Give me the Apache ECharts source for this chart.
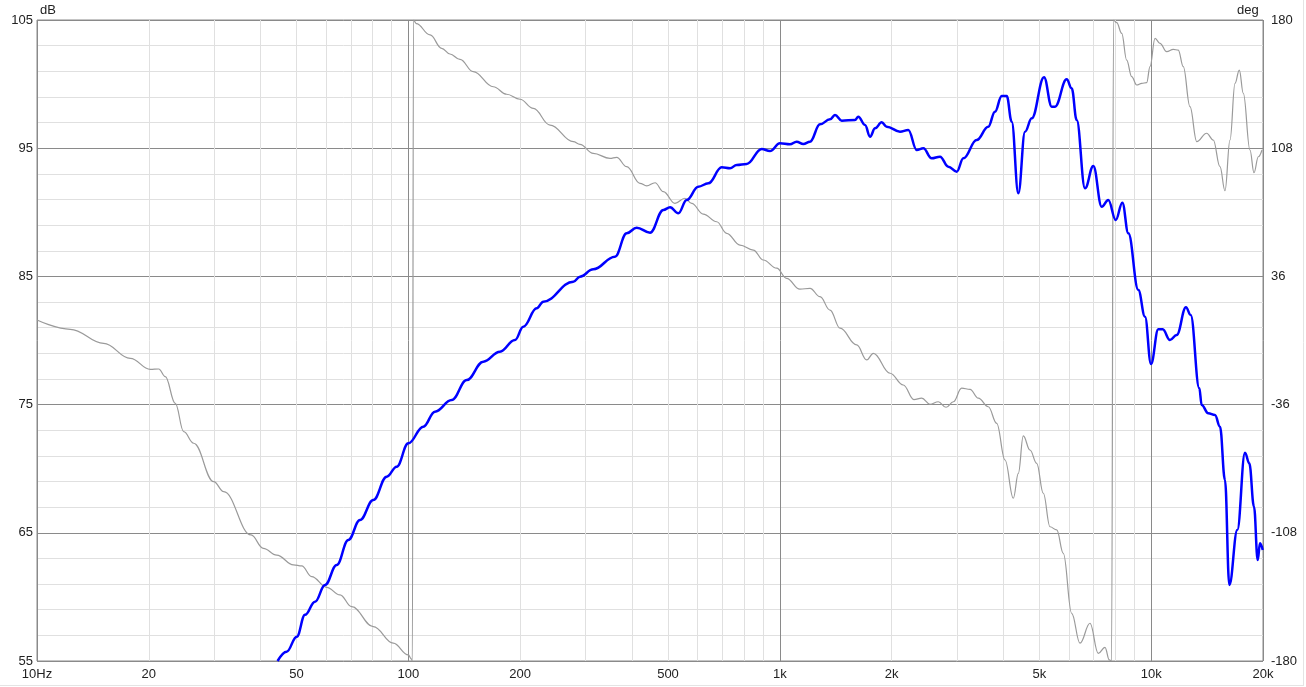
<!DOCTYPE html>
<html>
<head>
<meta charset="utf-8">
<script src="https://cdn.jsdelivr.net/npm/echarts@6/dist/echarts.min.js"></script>
<style>
html,body{margin:0;padding:0;background:#fff;}
#chart{width:1306px;height:687px;}
</style>
</head>
<body>
<div id="chart"></div>
<script>
// Magnitude (blue) — frequency in Hz, level in dB
var magFreq = [44.43,47.01,50.05,52.68,56.06,59.63,64.12,68.89,74.08,80.45,87.41,93.0,99.94,109.7,117.9,130.8,143.6,159.1,176.4,193.6,203.9,221.6,230.8,278.0,289.7,314.6,359.9,387.0,411.8,447.3,485.8,506.4,533.0,561.5,603.4,642.0,697.7,734.5,765.6,814.5,894.0,940.8,1001,1065,1110,1157,1206,1283,1365,1408,1468,1594,1627,1696,1750,1805,1881,1940,2107,2218,2337,2435,2564,2700,2843,2995,3120,3390,3642,3796,3958,4083,4211,4388,4574,4768,5146,5397,5508,5922,6108,6301,6634,6985,7357,7665,8026,8362,8678,9234,9623,9988,10451,10740,11234,11710,12407,12772,13475,13675,14245,14850,15318,15800,16233,17055,17887,18371,18914,19354,19632,19966];
var magDb = [55.0,55.73,56.9,58.6,59.63,60.93,62.49,64.44,66.0,67.56,69.38,70.16,71.98,73.28,74.45,75.36,76.92,78.35,79.13,80.04,81.08,82.51,83.03,84.59,84.98,85.55,86.54,88.36,88.8,88.41,90.18,90.39,89.92,90.96,92.0,92.26,93.51,93.43,93.69,93.77,94.94,94.78,95.38,95.3,95.51,95.33,95.51,96.86,97.25,97.59,97.15,97.2,97.46,96.81,95.9,96.55,97.02,96.68,96.29,96.42,94.86,94.99,94.21,94.34,93.56,93.17,94.21,95.64,96.68,97.85,99.07,99.07,97.07,91.48,96.29,97.33,100.53,98.24,98.24,100.37,99.67,97.2,91.87,93.61,90.44,90.96,89.4,90.75,88.36,83.94,81.86,78.17,80.87,80.87,80.04,80.43,82.59,81.99,76.27,74.97,74.32,74.19,73.28,69.12,60.93,65.22,71.25,70.42,67.04,62.88,64.18,63.66];

// Phase (grey) — frequency in Hz, phase in degrees (wrapped)
var phaseFreq = [10,12.29,15.12,17.83,20.19,21.27,22.15,23.57,24.83,26.42,29.91,31.82,37.69,40.68,44.2,49.05,51.61,54.9,60.26,65.44,70.36,80.45,91.06,99.94,101.9,102.5,103.2,105,114.4,122.9,129.4,137.7,149.5,169.3,183.9,199.8,217,240.6,278,289.7,314.6,348.9,363.7,387,420.3,438.1,461.4,485.8,522.2,555.5,579.1,622.3,676.2,719.4,781.2,848.4,902.8,980.9,1043,1133,1206,1283,1365,1453,1611,1714,1786,1981,2150,2297,2410,2537,2672,2803,2933,3088,3252,3424,3642,3837,4040,4254,4388,4525,4717,4917,5123,5340,5567,5799,6108,6431,6842,7203,7508,7714,7820,7920,8075,8330,8590,8861,9141,9428,9725,9926,10240,10561,11010,11468,11828,12201,12718,13263,14103,14693,15318,15800,16299,16814,17267,17703,18450,18914,19427,19877];
var phaseDeg = [11.5,6.3,-1.6,-10,-16.2,-16,-20.3,-35.3,-51.2,-57.7,-79.3,-84.9,-109.2,-116.7,-120.5,-126,-126.6,-132.6,-138.6,-142.9,-149.5,-160.7,-170,-176.6,-179,-180,180,178,171.6,164.1,160.9,157.9,151,142.5,138.3,135.5,130.4,121,111.7,110.2,105.1,102.3,102.9,97.6,88.3,86.8,88.6,83.6,77,79.9,77,71,66.7,60.2,53.6,50.8,45.2,40.6,34.9,28.8,29.3,24.6,17.1,6.9,-2.5,-10.9,-7.2,-18.4,-25,-33.2,-32.4,-35.8,-34.4,-37.5,-34.4,-26.8,-27.4,-32.4,-37.2,-46.5,-67.1,-88.6,-74.6,-53.6,-61.5,-69,-85.8,-104.6,-106.4,-119.5,-153.2,-170,-158.8,-175.7,-172.3,-179.4,-180,180,178.5,172.5,157.5,148.2,143.5,144.4,144.8,153.8,169.7,166.9,162.2,163.5,163.1,153.8,131.3,111.7,116.4,112.6,97.6,84.1,112.6,144.4,151.9,138.8,107,94.2,103.2,107];

// Axis ticks
var xLabelValues = [10,20,50,100,200,500,1000,2000,5000,10000,20000];
var xMinorValues = [20,30,40,50,60,70,80,90,200,300,400,500,600,700,800,900,2000,3000,4000,5000,6000,7000,8000,9000];
var dbMin = 55, dbMax = 105, dbStep = 10;
var degMin = -180, degMax = 180, degStep = 72;

function zip(a, b) { return a.map(function (v, i) { return [v, b[i]]; }); }
function fmtHz(v) {
  if (v === 10) return '10Hz';
  if (v >= 1000) return (v / 1000) + 'k';
  return String(v);
}

var FONT = 'Liberation Sans';
var chart = echarts.init(document.getElementById('chart'), null, {renderer: 'canvas'});
chart.setOption({
  backgroundColor: '#ffffff',
  animation: false,
  textStyle: {fontFamily: FONT},
  grid: {left: 37, right: 43, top: 20, bottom: 26, show: true, borderColor: '#8a8a8a', borderWidth: 1, backgroundColor: 'transparent'},
  xAxis: [
    {
      type: 'log', logBase: 10, min: 10, max: 20000, position: 'bottom',
      axisLine: {show: false},
      axisTick: {show: false, customValues: xMinorValues},
      axisLabel: {show: true, customValues: xLabelValues, formatter: fmtHz, color: '#222', fontSize: 13, fontFamily: FONT, margin: 7, hideOverlap: false, showMinLabel: true, showMaxLabel: true},
      splitLine: {show: true, lineStyle: {color: '#e0e0e0', width: 1}}
    },
    {
      type: 'log', logBase: 10, min: 10, max: 20000, position: 'bottom',
      axisLine: {show: false}, axisTick: {show: false}, axisLabel: {show: false},
      splitLine: {show: true, lineStyle: {color: '#8a8a8a', width: 1}}
    }
  ],
  yAxis: [
    {
      type: 'value', min: dbMin, max: dbMax, interval: dbStep, position: 'left',
      axisLine: {show: false}, axisTick: {show: false},
      axisLabel: {color: '#222', fontSize: 13, fontFamily: FONT, margin: 4},
      splitLine: {show: true, lineStyle: {color: '#8a8a8a', width: 1}},
      minorTick: {show: false, splitNumber: 5},
      minorSplitLine: {show: true, lineStyle: {color: '#e0e0e0', width: 1}}
    },
    {
      type: 'value', min: degMin, max: degMax, interval: degStep, position: 'right',
      axisLine: {show: false}, axisTick: {show: false},
      axisLabel: {color: '#222', fontSize: 13, fontFamily: FONT, margin: 8},
      splitLine: {show: false}
    }
  ],
  graphic: [
    {type: 'text', left: 40, top: 4, style: {text: 'dB', fill: '#222', font: '13px "Liberation Sans"'}},
    {type: 'text', left: 1237, top: 4, style: {text: 'deg', fill: '#222', font: '13px "Liberation Sans"'}},
    {type: 'line', shape: {x1: 1303.5, y1: 0, x2: 1303.5, y2: 685}, style: {stroke: '#e4e4e4', lineWidth: 1}},
    {type: 'line', shape: {x1: 0, y1: 685.5, x2: 1304, y2: 685.5}, style: {stroke: '#e4e4e4', lineWidth: 1}}
  ],
  series: [
    {
      name: 'Phase', type: 'line', xAxisIndex: 0, yAxisIndex: 1,
      data: zip(phaseFreq, phaseDeg), showSymbol: false, symbol: 'none',
      smooth: 0.4, smoothMonotone: 'x',
      lineStyle: {color: '#9a9a9a', width: 1.2}, z: 2
    },
    {
      name: 'SPL', type: 'line', xAxisIndex: 0, yAxisIndex: 0,
      data: zip(magFreq, magDb), showSymbol: false, symbol: 'none',
      smooth: 0.4, smoothMonotone: 'x',
      lineStyle: {color: '#0000ff', width: 2.5}, z: 3
    }
  ]
});
</script>
</body>
</html>
